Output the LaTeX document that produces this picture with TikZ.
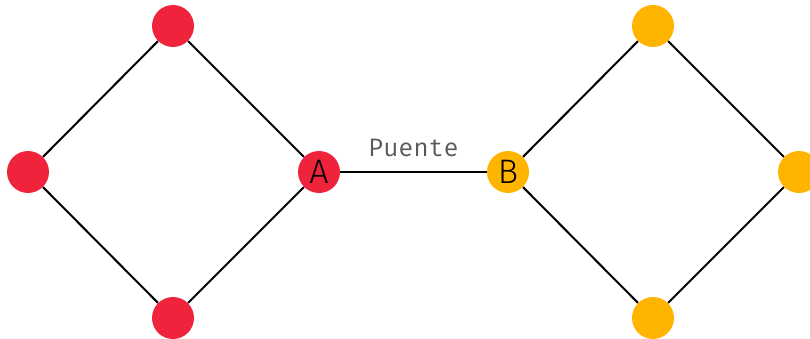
\documentclass[tikz,border=0pt]{standalone}
\usepackage{fontspec}
\newfontfamily\puentefont{Fira Mono}
\newfontfamily\letterfont{Fira Sans}[UprightFont=* Light]
\pgfdeclarelayer{nodelayer}
\pgfdeclarelayer{edgelayer}
\pgfsetlayers{edgelayer,nodelayer,main}
\definecolor{redfill}{RGB}{240,35,60}
\definecolor{yellowfill}{RGB}{255,180,0}
\tikzstyle{red style}=[fill=redfill, draw=none, shape=circle, minimum size=1.26cm, inner sep=0pt, font=\letterfont\fontsize{29}{29}\selectfont]
\tikzstyle{yellow style}=[fill=yellowfill, draw=none, shape=circle, minimum size=1.26cm, inner sep=0pt, font=\letterfont\fontsize{29}{29}\selectfont]
\tikzstyle{edge style}=[draw=black, line width=1.7pt]

\begin{document}
\begin{tikzpicture}[x=0.03cm, y=-0.03cm]
	\useasboundingbox (0, 0) rectangle (810, 339);
	\begin{pgfonlayer}{nodelayer}
		\node [style=red style] (0) at (173, 26) {};
		\node [style=red style] (1) at (28, 172) {};
		\node [style=red style] (2) at (173, 318) {};
		\node [style=red style] (3) at (319, 172) {A};
		\node [style=yellow style] (4) at (508, 172) {B};
		\node [style=yellow style] (5) at (653, 26) {};
		\node [style=yellow style] (6) at (799, 172) {};
		\node [style=yellow style] (7) at (653, 318) {};
	\end{pgfonlayer}
	\begin{pgfonlayer}{edgelayer}
		\draw [style=edge style] (0) to (1);
		\draw [style=edge style] (1) to (2);
		\draw [style=edge style] (2) to (3);
		\draw [style=edge style] (3) to (0);
		\draw [style=edge style] (3) to node [above=9pt, font=\puentefont\fontsize{21.5}{21.5}\selectfont, text=black!65] {Puente} (4);
		\draw [style=edge style] (4) to (5);
		\draw [style=edge style] (5) to (6);
		\draw [style=edge style] (6) to (7);
		\draw [style=edge style] (7) to (4);
	\end{pgfonlayer}
\end{tikzpicture}
\end{document}
